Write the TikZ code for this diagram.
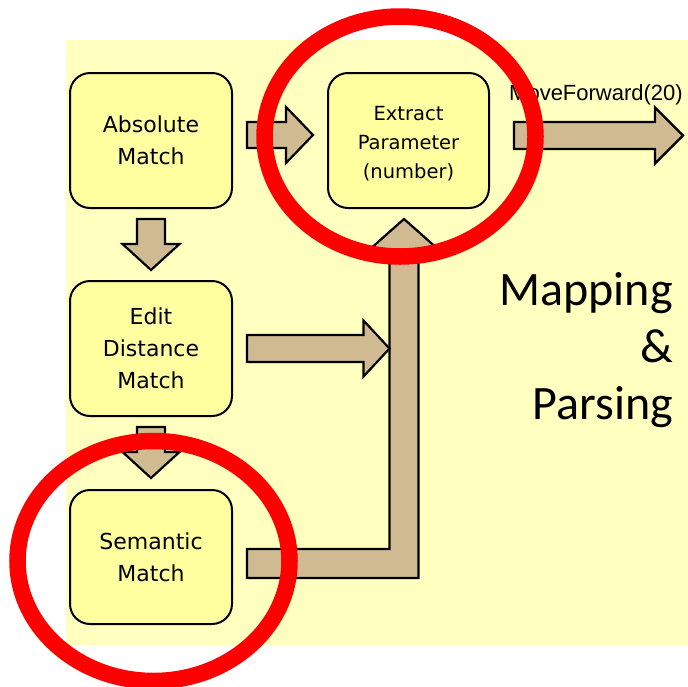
\documentclass[tikz,border=0pt]{standalone}
\usepackage{fontspec}
\setmainfont{Liberation Sans}
\newfontfamily\boxfont{DejaVu Sans}
\newfontfamily\titlefont{Carlito}
\usetikzlibrary{calc}

\definecolor{pagebg}{RGB}{255,255,192}
\definecolor{boxfill}{RGB}{255,255,160}
\definecolor{arrowtan}{RGB}{208,186,146}
\definecolor{ringred}{RGB}{255,0,0}

% Block arrow pointing right: start, tip, half shaft, half head, head length
\newcommand{\rightblock}[5]{%
  \draw[blockarrow] let \p1=(#1), \p2=(#2) in
    (\x1,\y1+#3) -- (\x2-#5,\y1+#3) -- (\x2-#5,\y1+#4) -- (\x2,\y1) --
    (\x2-#5,\y1-#4) -- (\x2-#5,\y1-#3) -- (\x1,\y1-#3) -- cycle;}

% Block arrow pointing down: start, tip, half shaft, half head, head length
\newcommand{\downblock}[5]{%
  \draw[blockarrow] let \p1=(#1), \p2=(#2) in
    (\x1-#3,\y1) -- (\x1-#3,\y2+#5) -- (\x1-#4,\y2+#5) -- (\x1,\y2) --
    (\x1+#4,\y2+#5) -- (\x1+#3,\y2+#5) -- (\x1+#3,\y1) -- cycle;}

% Bent block arrow: right from start, then up to tip
\newcommand{\bentblock}[5]{%
  \draw[blockarrow] let \p1=(#1), \p2=(#2) in
    (\x1,\y1+#3) -- (\x2-#3,\y1+#3) -- (\x2-#3,\y2-#5) -- (\x2-#4,\y2-#5) --
    (\x2,\y2) -- (\x2+#4,\y2-#5) -- (\x2+#3,\y2-#5) -- (\x2+#3,\y1-#3) --
    (\x1,\y1-#3) -- cycle;}

\begin{document}
\begin{tikzpicture}[x=1pt,y=-1pt,
  stepbox/.style={draw=black, line width=2pt, rounded corners=20pt,
    fill=boxfill, minimum width=162pt, minimum height=135pt,
    inner sep=0pt, align=center, font=\boxfont\fontsize{22}{32}\selectfont},
  blockarrow/.style={draw=black, line width=2.2pt, fill=arrowtan, line join=miter},
  ring/.style={draw=ringred, line width=16.5pt}]

\useasboundingbox (0,0) rectangle (688,686);
\fill[pagebg] (66,40) rectangle (688,645);

% matching stages
\node[stepbox] (abs) at (151,140.5) {Absolute\\Match};
\node[stepbox] (edt) at (151,348.5) {Edit\\Distance\\Match};
\node[stepbox, minimum height=134pt] (sem) at (151,557) {Semantic\\Match};
\node[stepbox, minimum width=161pt, font=\boxfont\fontsize{19.5}{29}\selectfont]
  (ext) at (408.5,140.5) {\rule{0pt}{21.5pt}Extract\\Parameter\\(number)};

% output of the parser
\coordinate (mfend) at (683,135.5);
\coordinate (ptip) at ($(ext.south)+(-4.5,10)$);

% flow arrows
\downblock{$(abs.south)+(0,10)$}{$(edt.north)+(0,-10)$}{14pt}{28.5pt}{26pt}
\downblock{$(edt.south)+(0,10)$}{$(sem.north)+(0,-11)$}{14pt}{28.5pt}{26pt}
\rightblock{$(abs.east)+(14,-5.5)$}{$(ext.west)+(-14,-5.5)$}{13pt}{28pt}{27pt}
\rightblock{$(ext.east)+(24,-5)$}{mfend}{13.5pt}{28pt}{28pt}
\bentblock{$(sem.east)+(14,6.5)$}{ptip}{14.5pt}{35pt}{31pt}
\rightblock{$(edt.east)+(14,0)$}{$(ptip |- edt.east)+(-14.5,0)$}{13.5pt}{28pt}{26pt}

% labels
\node[anchor=base west, inner sep=0pt, font=\fontsize{22}{26}\selectfont]
  (mflabel) at (509,100) {MoveForward(20)};
\node[anchor=east, align=right, inner sep=0pt,
  font=\titlefont\fontsize{48}{57}\selectfont]
  (title) at (673,350.3) {Mapping\\\&\\Parsing};

% highlight rings
\draw[ring] ($(ext.center)+(-8.5,-4)$) ellipse [x radius=135.5pt, y radius=120pt];
\draw[ring] ($(sem.center)+(2.5,4)$) ellipse [x radius=136pt, y radius=120pt];
\end{tikzpicture}
\end{document}
